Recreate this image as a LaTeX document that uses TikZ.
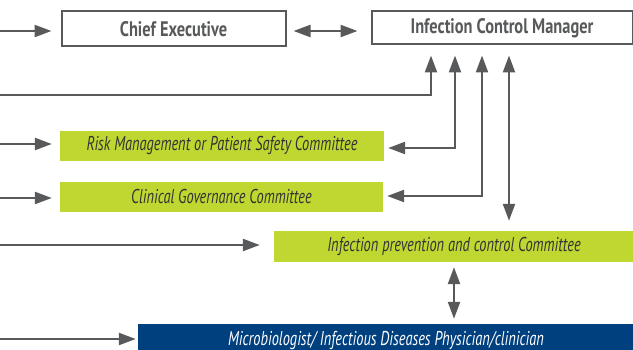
\documentclass[tikz,border=0pt]{standalone}
\usepackage{fontspec}
\setmainfont{PT Sans}[FakeStretch=0.78]
\newfontfamily\notefont{PT Sans}[FakeStretch=0.72]
\usetikzlibrary{arrows.meta}

\definecolor{linkgray}{HTML}{58595B}
\definecolor{boardgreen}{HTML}{BFD730}
\definecolor{labblue}{HTML}{00407F}
\definecolor{notetext}{HTML}{333335}

\begin{document}
\begin{tikzpicture}
  [x=1pt,y=-1pt,
   % Styles
   head box/.style={draw=linkgray,line width=2pt,inner sep=0pt,
     font=\fontsize{21}{23}\selectfont\bfseries,text=linkgray},
   committee box/.style={fill=boardgreen,inner sep=0pt,
     font=\notefont\fontsize{20}{22}\selectfont\itshape,text=notetext},
   expert box/.style={fill=labblue,inner sep=0pt,
     font=\notefont\fontsize{20}{22}\selectfont\itshape,text=white},
   link/.style={draw=linkgray,line width=2.3pt,
     -{Triangle[length=17pt,width=12pt]}},
   both ways/.style={{Triangle[length=17pt,width=12pt]}-{Triangle[length=17pt,width=12pt]}}]

  \useasboundingbox (0,0) rectangle (633,350);
  \clip (0,0) rectangle (633,350);

  % The boxes
  \node[head box,minimum width=224pt,minimum height=35pt] (ce) at (173.5,29) {Chief Executive};
  \node[head box,minimum width=261pt,minimum height=33pt] (icm) at (502,28) {Infection Control Manager};

  \node[committee box,minimum width=324pt,minimum height=30pt] (risk) at (222,146)
    {Risk Management or Patient Safety Committee};
  \node[committee box,minimum width=323pt,minimum height=30pt] (clin) at (221.5,197)
    {Clinical Governance Committee};
  \node[committee box,minimum width=360pt,minimum height=31pt] (ipc) at (454,246.5)
    {Infection prevention and control Committee};
  \node[expert box,minimum width=496pt,minimum height=32pt] (micro) at (386,340)
    {Microbiologist/ Infectious Diseases Physician/clinician};

  % Free ends on the left edge
  \coordinate (in ce) at (0,31);
  \coordinate (in icm) at (0,95);
  \coordinate (in risk) at (0,144);
  \coordinate (in clin) at (0,198);
  \coordinate (in ipc) at (0,245);
  \coordinate (in micro) at (0,339);

  % Connectors from the left
  \draw[link,shorten >=9pt] (in ce) -- (in ce -| ce.west);
  \draw[link,shorten >=10pt] (in icm) -| ([xshift=-71pt]icm.south);
  \draw[link,shorten >=8pt] (in risk) -- (in risk -| risk.west);
  \draw[link,shorten >=8pt] (in clin) -- (in clin -| clin.west);
  \draw[link,shorten >=14pt] (in ipc) -- (in ipc -| ipc.west);
  \draw[link,shorten >=2pt] (in micro) -- (in micro -| micro.west);

  % Connectors between the boxes
  \draw[link,both ways,shorten <=7pt,shorten >=13pt] (in ce -| ce.east) -- (in ce -| icm.west);
  \draw[link,both ways,shorten <=4pt,shorten >=10pt]
    ([yshift=-2pt]risk.east) -| ([xshift=-47pt]icm.south);
  \draw[link,both ways,shorten <=4pt,shorten >=10pt]
    ([yshift=1pt]clin.east) -| ([xshift=-20pt]icm.south);
  \draw[link,both ways,shorten <=10pt,shorten >=10pt]
    ([xshift=7pt]icm.south) -- ([xshift=7pt]icm.south |- ipc.north);
  \draw[link,both ways,shorten <=5pt,shorten >=5pt] (ipc.south) -- (ipc.south |- micro.north);
\end{tikzpicture}
\end{document}
